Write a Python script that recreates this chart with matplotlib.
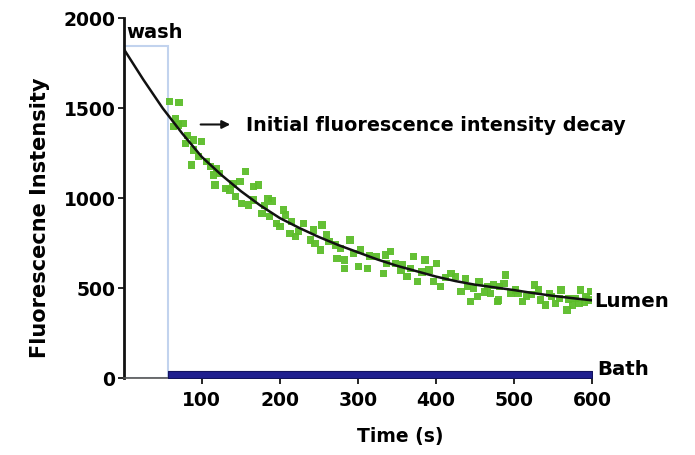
import matplotlib
matplotlib.use("Agg")
import matplotlib.pyplot as plt
from matplotlib.patches import Rectangle

plt.rcParams['font.family'] = ['DejaVu Sans']
plt.rcParams['font.weight'] = 'bold'

# Lumen scatter (time s, intensity)
lumen_t = [59, 71, 66, 64, 70, 76, 79, 82, 89, 100, 89, 96, 87, 106, 111, 115, 119, 123,
           156, 117, 130, 136, 140, 149, 166, 173, 143, 151, 160, 185, 166, 177, 180, 187,
           190, 196, 205, 207, 200, 213, 215, 220, 224, 230, 243, 254, 239, 245, 252, 260,
           263, 271, 290, 273, 278, 283, 283, 294, 303, 301, 312, 315, 324, 335, 333, 342,
           337, 348, 355, 357, 367, 371, 382, 386, 401, 363, 376, 391, 397, 406, 412, 419,
           425, 438, 440, 432, 448, 455, 444, 453, 462, 466, 470, 479, 489, 487, 481, 474,
           480, 496, 502, 505, 511, 516, 522, 526, 531, 534, 540, 545, 548, 560, 558, 553,
           568, 570, 575, 579, 585, 598, 592, 596, 583, 590]
lumen_v = [1537, 1533, 1444, 1398, 1407, 1417, 1305, 1350, 1324, 1314, 1268, 1231, 1185,
           1203, 1176, 1130, 1167, 1139, 1148, 1074, 1056, 1046, 1080, 1092, 1064, 1074,
           1009, 972, 963, 1000, 991, 917, 960, 898, 985, 861, 935, 907, 845, 806, 870, 787,
           815, 861, 824, 852, 768, 750, 713, 800, 759, 741, 768, 667, 720, 657, 611, 694,
           713, 620, 611, 680, 676, 685, 583, 703, 639, 639, 600, 629, 611, 676, 590, 657,
           639, 564, 537, 601, 537, 509, 560, 583, 564, 556, 509, 481, 500, 537, 426, 453,
           480, 509, 472, 426, 574, 528, 509, 518, 435, 472, 491, 470, 426, 453, 465, 518,
           491, 435, 407, 472, 455, 491, 444, 417, 379, 440, 407, 444, 491, 481, 453, 435,
           417, 420]

# Fitted decay curve
fit_t = [0, 25, 50, 75, 100, 125, 150, 175, 200, 225, 250, 275, 300, 325, 350, 375,
         400, 425, 450, 475, 500, 525, 550, 575, 600]
fit_v = [1830, 1660, 1500, 1360, 1230, 1130, 1040, 960, 890, 835, 785, 740, 700, 660,
         625, 595, 565, 540, 520, 505, 490, 473, 458, 445, 433]

# Bath trace
bath_t = [57, 600]
bath_v = [40, 40]

# Wash period
wash_start, wash_end, wash_top = 0, 57, 1846

x_ticks = [100, 200, 300, 400, 500, 600]
y_ticks = [0, 500, 1000, 1500, 2000]

fig = plt.figure(figsize=(6.95, 4.55), dpi=100)
ax = fig.add_axes([0.178, 0.1686, 0.674, 0.7912])

ax.add_patch(Rectangle((wash_start, 0), wash_end - wash_start, wash_top,
                       fill=False, edgecolor='#c2d3ee', linewidth=1.5, zorder=1))

ax.fill_between(bath_t, 0, bath_v, color='#1f1f8f', edgecolor='#12125e',
                linewidth=0.8, zorder=3)

ax.scatter(lumen_t, lumen_v, marker='s', s=28, color='#5cbd2a', edgecolors='none',
           alpha=0.95, zorder=2)
ax.plot(fit_t, fit_v, color='#111111', linewidth=1.8, zorder=4)

ax.set_xlim(0, 600)
ax.set_ylim(0, 2000)
ax.set_xticks(x_ticks)
ax.set_yticks(y_ticks)
ax.tick_params(axis='both', labelsize=13.5, length=4, width=1.2, pad=2)
ax.tick_params(axis='x', pad=5)
for lab in ax.get_xticklabels() + ax.get_yticklabels():
    lab.set_fontweight('bold')

ax.spines['top'].set_visible(False)
ax.spines['right'].set_visible(False)
ax.spines['left'].set_linewidth(2)
ax.spines['left'].set_color('#111111')
ax.spines['bottom'].set_linewidth(1.2)
ax.spines['bottom'].set_color('#555555')

ax.set_xlabel('Time (s)', fontsize=13.5, fontweight='bold')
ax.set_ylabel('Fluorescecne Instensity', fontsize=15, fontweight='bold')
ax.xaxis.set_label_coords(0.59, -0.163)
ax.yaxis.set_label_coords(-0.178, 0.445)
ax.xaxis.label.set_va('center')
ax.yaxis.label.set_va('center')

ax.text(3, 1920, 'wash', fontsize=14, fontweight='bold', va='center', ha='left',
        clip_on=False)
ax.annotate('', xy=(140, 1410), xytext=(95, 1410),
            arrowprops=dict(arrowstyle='-|>', color='#111111', lw=1.5,
                            mutation_scale=12))
ax.text(156, 1405, 'Initial fluorescence intensity decay', fontsize=13.8,
        fontweight='bold', va='center', ha='left')
ax.text(603, 425, 'Lumen', fontsize=14.2, fontweight='bold', va='center', ha='left',
        clip_on=False)
ax.text(607, 50, 'Bath', fontsize=14.2, fontweight='bold', va='center', ha='left',
        clip_on=False)

fig.savefig('out.png', dpi=100)
